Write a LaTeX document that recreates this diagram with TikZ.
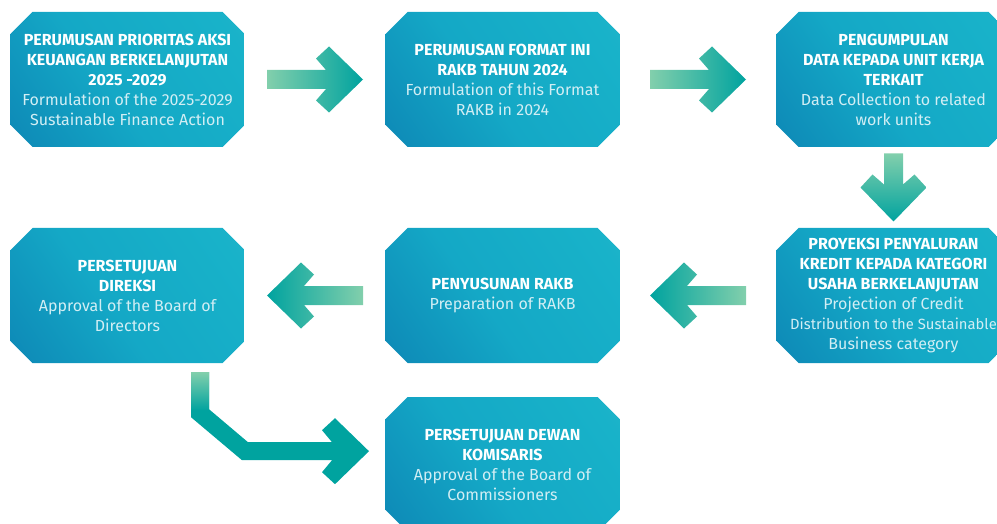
\documentclass[tikz,border=0pt]{standalone}
\usepackage{fontspec}
\setmainfont{Fira Sans}
\usetikzlibrary{calc}

\definecolor{boxdark}{HTML}{0A78AE}
\definecolor{boxmid}{HTML}{14A8C6}
\definecolor{boxtop}{HTML}{18B2C9}
\definecolor{boxlight}{HTML}{2DB7C6}
\definecolor{subtxt}{HTML}{D2EEF4}
\definecolor{mint}{HTML}{82CFAC}
\definecolor{teal}{HTML}{00A39F}

\pgfdeclarehorizontalshading{boxshade}{100bp}{color(0bp)=(boxdark); color(45bp)=(boxmid); color(78bp)=(boxtop); color(100bp)=(boxlight)}

\newcommand{\idn}[1]{{\bfseries #1}}
\newcommand{\eng}[1]{{\color{subtxt}#1}}
\newcommand{\engn}[1]{{\color{subtxt}\fontsize{14.8}{20}\selectfont #1}}
% block arrow: #1 centre, #2 angle, #3 length, #4 shading
\newcommand{\flowarrow}[4]{%
  \shade[#4, shift={#1}, rotate=#2]
    (-#3/2, 9.5) -- (#3/2-37, 9.5) -- (#3/2-47, 21) -- (#3/2-34, 33) -- (#3/2, 0)
    -- (#3/2-34, -33) -- (#3/2-47, -21) -- (#3/2-37, -9.5) -- (-#3/2, -9.5) -- cycle;}

\begin{document}
\begin{tikzpicture}[x=1pt, y=-1pt,
  stage/.style={rectangle, minimum width=234pt, minimum height=135pt,
    inner sep=0pt, align=center, text=white, font=\fontsize{16}{20}\selectfont,
    path picture={\shade[shading=boxshade, shading angle=35]
      let \p1=(path picture bounding box.north west),
          \p2=(path picture bounding box.south east) in
      (\x1,\y1-22pt) -- (\x1+22pt,\y1) -- (\x2-22pt,\y1) -- (\x2,\y1-22pt)
      -- (\x2,\y2+22pt) -- (\x2-22pt,\y2) -- (\x1+22pt,\y2) -- (\x1,\y2+22pt) -- cycle;}}]
  \useasboundingbox (0,0) rectangle (997,524);

  % top row
  \node[stage] (prio) at (127.5,79.5) {\idn{PERUMUSAN PRIORITAS AKSI}\\\idn{KEUANGAN BERKELANJUTAN}\\\idn{2025 -2029}\\\eng{Formulation of the 2025-2029}\\\eng{Sustainable Finance Action}};
  \node[stage] (format) at (502.5,79.5) {\idn{PERUMUSAN FORMAT INI}\\\idn{RAKB TAHUN 2024}\\\eng{Formulation of this Format}\\\eng{RAKB in 2024}};
  \node[stage] (data) at (893.5,79.5) {\idn{PENGUMPULAN}\\\idn{DATA KEPADA UNIT KERJA}\\\idn{TERKAIT}\\\eng{Data Collection to related}\\\eng{work units}};

  % middle row
  \node[stage] (direksi) at (127.5,295.5) {\idn{PERSETUJUAN}\\\idn{DIREKSI}\\\eng{Approval of the Board of}\\\eng{Directors}};
  \node[stage] (rakb) at (502.5,295.5) {\idn{PENYUSUNAN RAKB}\\\eng{Preparation of RAKB}};
  \node[stage] (kredit) at (893.5,295.5) {\idn{PROYEKSI PENYALURAN}\\\idn{KREDIT KEPADA KATEGORI}\\\idn{USAHA BERKELANJUTAN}\\\eng{Projection of Credit}\\\engn{Distribution to the Sustainable}\\\eng{Business category}};

  % bottom row
  \node[stage] (dewan) at (502.5,464.5) {\idn{PERSETUJUAN DEWAN}\\\idn{KOMISARIS}\\\eng{Approval of the Board of}\\\eng{Commissioners}};

  % arrows
  \coordinate (a1) at ($(prio.east)!0.5!(format.west)$);
  \coordinate (a2) at ($(format.east)!0.5!(data.west)$);
  \coordinate (a3) at ($(data.south)!0.5!(kredit.north)$);
  \coordinate (a4) at ($(rakb.east)!0.5!(kredit.west)$);
  \coordinate (a5) at ($(direksi.east)!0.5!(rakb.west)$);
  \flowarrow{(a1)}{0}{96}{left color=mint, right color=teal}
  \flowarrow{(a2)}{0}{96}{left color=mint, right color=teal}
  \flowarrow{(a3)}{-90}{68}{top color=mint, bottom color=teal}
  \flowarrow{(a4)}{180}{96}{left color=teal, right color=mint}
  \flowarrow{(a5)}{180}{96}{left color=teal, right color=mint}

  % bent arrow down to the board of commissioners
  \coordinate (bend) at ($(direksi.south)+(72.5,9)$);
  \begin{scope}[shift={(bend)}]
    \fill[teal] (-9,0) -- (-9,45) -- (42,88) -- (132,88) -- (122,100) -- (135,112)
      -- (169,79) -- (135,46) -- (122,58) -- (132,70) -- (48,70) -- (9,37) -- (9,0) -- cycle;
    \shade[top color=mint, bottom color=teal] (-9,0) rectangle (9,38);
  \end{scope}
\end{tikzpicture}
\end{document}
